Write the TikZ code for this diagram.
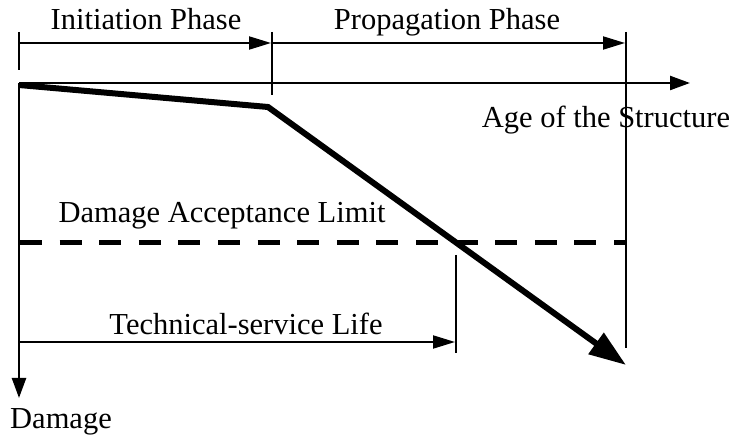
\documentclass[tikz,border=0pt]{standalone}
\usepackage{fontspec}
\setmainfont{Liberation Serif}
\usetikzlibrary{arrows.meta}
\begin{document}
\begin{tikzpicture}[x=1pt,y=-1pt,
  lbl/.style={font=\fontsize{30.5}{33}\selectfont, inner sep=0pt, anchor=base},
  thin/.style={line width=2pt},
  axis/.style={line width=2.4pt, -{Triangle[length=20pt,width=14pt]}},
  span/.style={line width=2pt, -{Triangle[length=22pt,width=13pt]}},
  curve/.style={line width=6pt, line join=miter, -{Triangle[length=37pt,width=25pt]}},
  limit/.style={line width=5pt, dash pattern=on 22pt off 17.6pt}]
\useasboundingbox (0,0) rectangle (740,435);
% points
\coordinate (O) at (19,83);
\coordinate (X) at (690,83);
\coordinate (Y) at (19,398);
\coordinate (C0) at (19,85);
\coordinate (K) at (268,107);
\coordinate (E) at (626,365);
\coordinate (t1a) at (19,32);  \coordinate (t1b) at (19,70);
\coordinate (t2a) at (272,32); \coordinate (t2b) at (272,95);
\coordinate (t3a) at (626,32); \coordinate (t3b) at (626,348);
\coordinate (t4a) at (456,255); \coordinate (t4b) at (456,353);
\coordinate (i0) at (19,43);  \coordinate (i1) at (271,43);
\coordinate (p0) at (272,43); \coordinate (p1) at (625,43);
\coordinate (s0) at (19,342); \coordinate (s1) at (455,342);
\coordinate (d0) at (20,243); \coordinate (d1) at (626,243);
% ticks
\draw[thin] (t1a) -- (t1b);
\draw[thin] (t2a) -- (t2b);
\draw[thin] (t3a) -- (t3b);
\draw[thin] (t4a) -- (t4b);
% spans
\draw[span] (i0) -- (i1);
\draw[span] (p0) -- (p1);
\draw[span] (s0) -- (s1);
% axes
\draw[axis] (O) -- (X);
\draw[axis] (O) -- (Y);
% limit
\draw[limit] (d0) -- (d1);
% damage curve
\draw[curve] (C0) -- (K) -- (E);
% labels
\node[lbl] (li) at (146,30) {Initiation Phase};
\node[lbl] (lp) at (447,30) {Propagation Phase};
\node[lbl] (la) at (606,128) {Age of the Structure};
\node[lbl] (ld) at (222,223) {Damage Acceptance Limit};
\node[lbl] (lt) at (246,335) {Technical-service Life};
\node[lbl] (lg) at (61,429) {Damage};
\end{tikzpicture}
\end{document}
